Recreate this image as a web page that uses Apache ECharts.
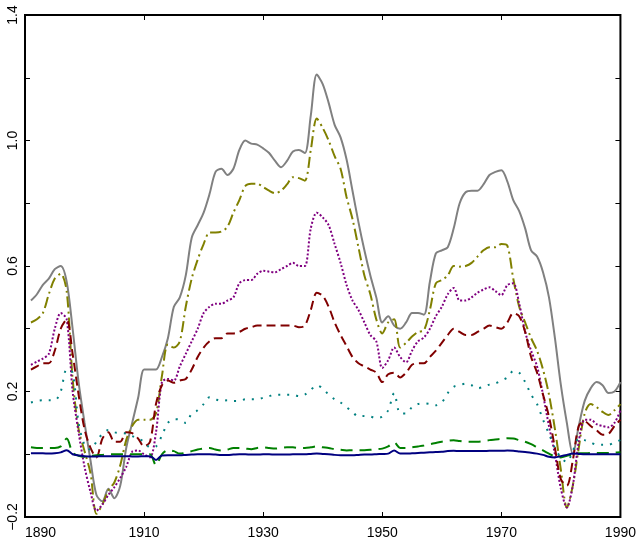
<!DOCTYPE html>
<html>
<head>
<meta charset="utf-8">
<script src="https://cdn.jsdelivr.net/npm/echarts@6/dist/echarts.min.js"></script>
<style>
html,body{margin:0;padding:0;background:#fff;}
#chart{width:639px;height:542px;}
</style>
</head>
<body>
<div id="chart"></div>
<script>
// yearly samples 1891..1990
const startYear = 1891;
const grayVals = [
 0.49,0.51,0.54,0.56,0.59,0.60,0.55,0.40,0.23,0.10,
 -0.02,-0.13,-0.15,-0.11,-0.14,-0.10,0.02,0.10,0.18,0.27,
 0.27,0.27,0.31,0.37,0.47,0.50,0.57,0.69,0.73,0.77,
 0.83,0.90,0.91,0.89,0.91,0.97,1.00,0.99,0.987,0.975,
 0.96,0.935,0.915,0.935,0.965,0.97,0.96,1.08,1.21,1.18,
 1.12,1.05,1.01,0.94,0.84,0.74,0.65,0.57,0.50,0.42,
 0.44,0.41,0.40,0.42,0.45,0.45,0.445,0.55,0.64,0.65,
 0.66,0.72,0.80,0.835,0.84,0.84,0.86,0.89,0.90,0.905,
 0.87,0.81,0.775,0.72,0.65,0.63,0.58,0.50,0.37,0.22,
 0.10,0.0,0.09,0.17,0.21,0.23,0.22,0.195,0.20,0.23
];
const oliveVals = [
 0.42,0.43,0.45,0.51,0.56,0.575,0.52,0.24,0.08,0.01,
 -0.06,-0.19,-0.16,-0.115,-0.09,-0.035,0.045,0.09,0.11,0.11,
 0.11,0.13,0.25,0.35,0.34,0.36,0.47,0.56,0.62,0.67,
 0.707,0.707,0.71,0.725,0.77,0.81,0.855,0.862,0.862,0.852,
 0.84,0.832,0.84,0.86,0.883,0.88,0.872,0.97,1.07,1.04,
 1.0,0.95,0.91,0.82,0.75,0.66,0.57,0.51,0.43,0.385,
 0.42,0.43,0.34,0.355,0.375,0.39,0.395,0.46,0.545,0.555,
 0.57,0.60,0.598,0.60,0.61,0.63,0.65,0.66,0.66,0.67,
 0.665,0.56,0.47,0.42,0.37,0.33,0.27,0.19,0.08,-0.05,
 -0.17,-0.10,0.02,0.13,0.16,0.15,0.135,0.125,0.14,0.16
];
const purpleVals = [
 0.285,0.295,0.305,0.32,0.40,0.45,0.43,0.20,0.07,-0.04,
 -0.12,-0.18,-0.16,-0.13,-0.105,-0.075,-0.04,0.008,0.012,0.0,
 -0.01,0.07,0.23,0.24,0.235,0.28,0.32,0.36,0.40,0.45,
 0.47,0.48,0.48,0.49,0.50,0.545,0.555,0.555,0.575,0.585,
 0.582,0.58,0.59,0.60,0.61,0.60,0.60,0.72,0.77,0.755,
 0.73,0.67,0.61,0.54,0.49,0.46,0.42,0.38,0.36,0.275,
 0.30,0.34,0.31,0.293,0.33,0.36,0.372,0.40,0.44,0.47,
 0.51,0.53,0.49,0.49,0.50,0.515,0.525,0.532,0.52,0.507,
 0.539,0.545,0.48,0.39,0.33,0.28,0.19,0.09,0.0,-0.11,
 -0.17,-0.10,0.04,0.11,0.11,0.096,0.09,0.086,0.10,0.14
];
const redVals = [
 0.27,0.28,0.29,0.29,0.33,0.40,0.43,0.32,0.19,0.08,
 0.02,-0.01,0.05,0.07,0.04,0.04,0.07,0.067,0.05,0.025,
 0.04,0.16,0.22,0.235,0.228,0.235,0.24,0.27,0.31,0.34,
 0.36,0.37,0.37,0.385,0.385,0.39,0.40,0.405,0.41,0.41,
 0.41,0.41,0.41,0.41,0.41,0.405,0.41,0.46,0.515,0.505,
 0.47,0.42,0.38,0.345,0.31,0.29,0.28,0.27,0.26,0.23,
 0.255,0.26,0.245,0.26,0.285,0.29,0.29,0.31,0.33,0.355,
 0.38,0.40,0.39,0.38,0.38,0.39,0.40,0.41,0.405,0.40,
 0.42,0.45,0.44,0.39,0.31,0.26,0.19,0.12,0.02,-0.08,
 -0.10,-0.02,0.09,0.105,0.09,0.076,0.062,0.065,0.09,0.11
];
const tealVals = [
 0.165,0.17,0.172,0.172,0.172,0.20,0.27,0.26,0.10,0.03,
 0.015,0.04,0.065,0.077,0.07,0.068,0.066,0.058,0.05,0.04,
 0.022,0.025,0.06,0.10,0.112,0.11,0.10,0.13,0.14,0.16,
 0.182,0.175,0.17,0.172,0.17,0.17,0.175,0.175,0.175,0.18,
 0.185,0.19,0.19,0.19,0.19,0.185,0.19,0.205,0.22,0.21,
 0.19,0.175,0.165,0.15,0.135,0.12,0.122,0.12,0.115,0.12,
 0.14,0.195,0.13,0.13,0.15,0.16,0.162,0.16,0.156,0.165,
 0.195,0.215,0.22,0.225,0.22,0.21,0.215,0.222,0.226,0.235,
 0.245,0.265,0.26,0.23,0.19,0.16,0.11,0.065,0.02,-0.01,
 -0.025,0.01,0.05,0.045,0.038,0.03,0.03,0.03,0.038,0.045
];
const greenVals = [
 0.022,0.02,0.02,0.02,0.02,0.025,0.05,0.005,-0.005,-0.008,
 -0.005,-0.003,-0.002,0,0,0,0,0,0,0,
 0,-0.035,0,0.013,0.01,0.002,0.005,0.01,0.015,0.018,
 0.02,0.015,0.012,0.015,0.02,0.02,0.018,0.016,0.02,0.022,
 0.02,0.018,0.02,0.022,0.022,0.02,0.02,0.022,0.025,0.022,
 0.02,0.016,0.014,0.012,0.013,0.013,0.013,0.014,0.016,0.018,
 0.025,0.038,0.02,0.02,0.022,0.025,0.028,0.032,0.036,0.04,
 0.043,0.045,0.042,0.04,0.04,0.04,0.042,0.045,0.047,0.049,
 0.051,0.05,0.045,0.04,0.032,0.022,0.012,0.002,-0.008,-0.01,
 -0.005,0,0.003,0.003,0.004,0.004,0.004,0.004,0.005,0.006
];
const navyVals = [
 0.003,0.003,0.003,0.002,0.003,0.006,0.013,0,-0.004,-0.006,
 -0.007,-0.007,-0.006,-0.006,-0.006,-0.006,-0.006,-0.007,-0.007,-0.006,
 -0.006,-0.018,-0.004,-0.003,-0.003,-0.003,-0.002,-0.001,0,0,
 0,-0.001,-0.002,-0.002,-0.001,0,0,-0.001,-0.001,0,
 0,-0.001,-0.001,-0.001,0,0,0,0.001,0.002,0.001,
 0,-0.002,-0.003,-0.003,-0.003,-0.002,-0.001,-0.001,0,0.001,
 0.002,0.012,0.002,0.002,0.003,0.004,0.005,0.006,0.007,0.008,
 0.01,0.011,0.01,0.01,0.01,0.01,0.01,0.011,0.011,0.011,
 0.012,0.011,0.009,0.007,0.005,0.002,-0.002,-0.008,-0.01,-0.006,
 -0.002,0.002,0.001,0,0,0,0,0,0,0
];
const yLabelTicks = [-0.2, 0.2, 0.6, 1.0, 1.4];
const xLabelTicks = [1890, 1910, 1930, 1950, 1970, 1990];

const years = grayVals.map((_, i) => startYear + i);
const pairs = vals => years.map((y, i) => [y, vals[i]]);

const FONT = 'Liberation Sans';
const seriesDefs = [
  {vals: grayVals,   color: '#808080', type: 'solid'},
  {vals: oliveVals,  color: '#808000', type: [11, 4, 2, 4]},
  {vals: purpleVals, color: '#800080', type: [2, 2]},
  {vals: redVals,    color: '#800000', type: [9, 5]},
  {vals: tealVals,   color: '#008080', type: [2, 7]},
  {vals: greenVals,  color: '#008000', type: [12, 7]},
  {vals: navyVals,   color: '#000080', type: 'solid'}
];

const fmtY = v => {
  const r = Math.round(v * 10) / 10;
  if (!yLabelTicks.some(t => Math.abs(t - r) < 1e-6)) return '';
  return r < 0 ? '\u2212' + Math.abs(r).toFixed(1) : r.toFixed(1);
};
const fmtX = v => xLabelTicks.indexOf(Math.round(v)) >= 0 ? String(Math.round(v)) : '';

const tick = {show: true, inside: true, length: 5, lineStyle: {color: '#000', width: 1}};
const chart = echarts.init(document.getElementById('chart'), null, {renderer: 'canvas'});
chart.setOption({
  animation: false,
  backgroundColor: '#fff',
  grid: {left: 25, right: 17, top: 15, bottom: 25, show: true, borderColor: '#000', borderWidth: 2, backgroundColor: 'transparent'},
  xAxis: [{
    type: 'value', min: 1890, max: 1990, interval: 20, position: 'bottom',
    axisLine: {show: false, onZero: false}, splitLine: {show: false},
    axisTick: tick,
    axisLabel: {formatter: fmtX, fontFamily: FONT, fontSize: 14, color: '#000', margin: 9,
      showMinLabel: true, showMaxLabel: true, alignMinLabel: 'left'}
  }, {
    type: 'value', position: 'top', min: 1890, max: 1990, interval: 20,
    axisLine: {show: false, onZero: false}, splitLine: {show: false},
    axisTick: tick,
    axisLabel: {show: false}
  }],
  yAxis: [{
    type: 'value', min: -0.2, max: 1.4, interval: 0.2, position: 'left',
    axisLine: {show: false, onZero: false}, splitLine: {show: false},
    axisTick: tick,
    axisLabel: {formatter: fmtY, rotate: 90, fontFamily: FONT, fontSize: 14, color: '#000', margin: 5,
      showMinLabel: true, showMaxLabel: true}
  }, {
    type: 'value', position: 'right', min: -0.2, max: 1.4, interval: 0.2,
    axisLine: {show: false, onZero: false}, splitLine: {show: false},
    axisTick: tick,
    axisLabel: {show: false}
  }],
  series: seriesDefs.map(d => ({
    type: 'line', xAxisIndex: 0, yAxisIndex: 0,
    data: pairs(d.vals), showSymbol: false, symbol: 'none', smooth: 0.3,
    lineStyle: {color: d.color, width: 2, type: d.type},
    silent: true
  }))
});
</script>
</body>
</html>
